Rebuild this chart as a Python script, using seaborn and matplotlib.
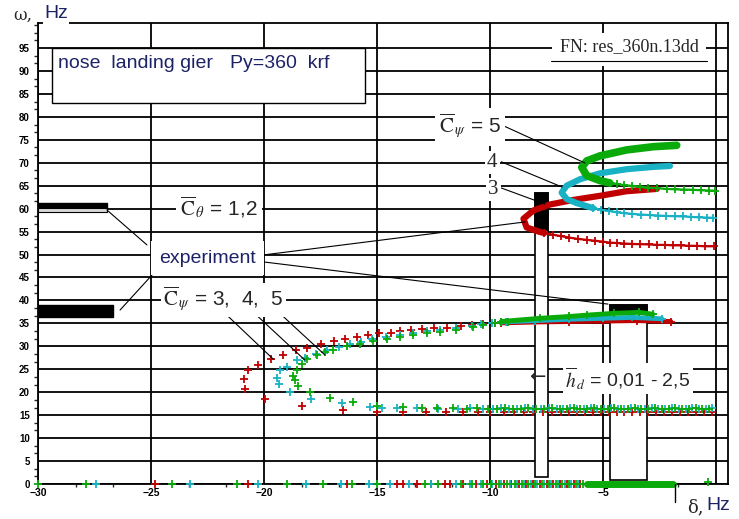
import matplotlib
matplotlib.use('Agg')
import matplotlib.pyplot as plt
import seaborn as sns
import pandas as pd
from matplotlib.patches import Rectangle
from matplotlib.ticker import MultipleLocator

# ---------------- data ----------------
y_ticks = [0, 5, 10, 15, 20, 25, 30, 35, 40, 45, 50, 55, 60, 65, 70, 75, 80, 85, 90, 95]
x_ticks = [-30, -25, -20, -15, -10, -5, 0]
x_tick_labels = ['\u221230', '\u221225', '\u221220', '\u221215', '\u221210', '\u22125', '']

# lower family: C-shaped branch (markers)
red_low_x = [-9.2, -9.8, -10.3, -10.8, -11.3, -11.9, -12.5, -13.0, -13.5, -14.0, -14.4, -14.9, -15.4,
             -15.9, -16.4, -16.9, -17.5, -18.1, -18.6, -19.15, -19.7, -20.25, -20.7, -20.9, -20.85,
             -19.95, -18.3, -16.5, -15.0, -13.85, -12.85, -11.95, -11.2, -10.55, -10.0, -9.4, -8.95,
             -8.5, -8.1, -7.65, -7.25, -6.85, -6.5, -6.15, -5.8, -5.45, -5.1, -4.75, -4.4, -4.05,
             -3.7, -3.35, -3.0, -2.65, -2.3, -1.95, -1.6, -1.25, -0.9, -0.55, -0.2]
red_low_y = [35.2, 35.0, 34.8, 34.6, 34.4, 34.1, 33.9, 33.7, 33.5, 33.3, 33.0, 32.8, 32.4,
             32.0, 31.7, 31.2, 30.4, 29.7, 29.1, 28.2, 27.3, 25.9, 24.8, 22.8, 20.8,
             18.6, 17.0, 16.1, 15.6, 15.7, 15.6, 15.6, 15.6, 15.6, 15.6, 15.7, 15.7,
             15.6, 15.6, 15.7, 15.6, 15.6, 15.7, 15.6, 15.6, 15.7, 15.6, 15.6, 15.7, 15.6,
             15.6, 15.7, 15.6, 15.6, 15.7, 15.6, 15.6, 15.7, 15.6, 15.6, 15.7]
cyan_low_x = [-9.3, -9.9, -10.4, -10.8, -11.5, -12.2, -12.8, -13.4, -14.0, -14.6, -15.2, -15.7,
              -16.2, -16.7, -17.2, -17.7, -18.2, -18.55, -19.0, -19.29, -19.44, -19.32, -18.85,
              -17.9, -16.56, -15.3, -14.79, -14.13, -13.24, -12.29, -11.4, -10.88, -10.3, -9.85,
              -9.5, -9.15, -8.8, -8.45, -8.1, -7.75, -7.4, -7.05, -6.75, -6.45, -6.15, -5.85,
              -5.55, -5.25, -4.95, -4.65, -4.35, -4.05, -3.75, -3.45, -3.15, -2.85, -2.55, -2.25,
              -1.95, -1.65, -1.35, -1.05, -0.75, -0.45, -0.2]
cyan_low_y = [35.4, 35.1, 34.8, 34.4, 34.0, 33.6, 33.3, 32.9, 32.5, 32.0, 31.5, 31.0,
              30.5, 29.8, 29.1, 28.4, 27.5, 27.0, 25.5, 24.8, 23.0, 21.8, 20.0,
              18.6, 17.6, 16.8, 16.6, 16.5, 16.5, 16.4, 16.4, 16.5, 16.4, 16.4,
              16.5, 16.4, 16.4, 16.5, 16.4, 16.4, 16.5, 16.4, 16.4, 16.5, 16.4, 16.4,
              16.5, 16.4, 16.4, 16.5, 16.4, 16.4, 16.5, 16.4, 16.4, 16.5, 16.4, 16.4,
              16.5, 16.4, 16.4, 16.5, 16.4, 16.4, 16.5]
green_low_x = [-9.2, -9.8, -10.3, -10.74, -11.5, -12.2, -12.8, -13.4, -13.98, -14.57, -15.16, -15.75,
               -16.34, -16.93, -17.3, -17.67, -18.11, -18.33, -18.55, -18.7, -18.63, -18.48, -17.96,
               -17.08, -16.05, -15.0, -13.84, -13.0, -12.36, -11.62, -11.03, -10.59, -10.1, -9.7,
               -9.35, -9.0, -8.65, -8.3, -7.95, -7.6, -7.25, -6.9, -6.6, -6.3, -6.0, -5.7, -5.4,
               -5.1, -4.8, -4.5, -4.2, -3.9, -3.6, -3.3, -3.0, -2.7, -2.4, -2.1, -1.8, -1.5, -1.2,
               -0.9, -0.6, -0.3]
green_low_y = [35.3, 35.0, 34.6, 34.2, 33.6, 33.1, 32.8, 32.4, 32.0, 31.5, 31.1, 30.6,
               30.0, 29.3, 28.8, 28.0, 27.3, 26.1, 24.9, 23.5, 22.6, 21.3, 20.0,
               18.8, 17.9, 17.1, 16.8, 16.6, 16.5, 16.5, 16.4, 16.5, 16.4, 16.4,
               16.5, 16.4, 16.4, 16.5, 16.4, 16.4, 16.5, 16.4, 16.4, 16.5, 16.4, 16.4, 16.5,
               16.4, 16.4, 16.5, 16.4, 16.4, 16.5, 16.4, 16.4, 16.5, 16.4, 16.4, 16.5, 16.4, 16.4,
               16.5, 16.4, 16.4]

# lower family: dense band near the fold tip
red_band_x = [-9.5, -8.0, -6.5, -5.0, -3.5, -2.0]
red_band_y = [35.1, 35.3, 35.4, 35.5, 35.6, 35.4]
cyan_band_x = [-9.5, -8.0, -6.5, -5.0, -3.7, -2.4]
cyan_band_y = [35.3, 35.6, 35.9, 36.1, 36.3, 36.0]
green_band_x = [-9.5, -7.8, -6.5, -5.7, -4.5, -3.4, -2.8]
green_band_y = [35.4, 36.1, 36.5, 36.8, 37.2, 37.4, 37.0]

# upper family: dense part (upper branch + nose)
red_up_x = [-2.62, -3.95, -5.13, -6.31, -7.35, -8.08, -8.52, -8.38, -7.79, -7.6]
red_up_y = [64.3, 63.8, 62.8, 61.9, 60.9, 59.6, 57.8, 55.9, 54.9, 54.7]
cyan_up_x = [-2.04, -2.77, -3.95, -5.13, -6.02, -6.61, -6.83, -6.61, -6.16, -5.43]
cyan_up_y = [69.3, 69.1, 68.6, 67.7, 66.4, 65.0, 63.5, 62.1, 61.2, 60.1]
green_up_x = [-1.74, -2.77, -3.95, -5.13, -5.72, -5.94, -5.72, -5.13, -4.7]
green_up_y = [73.8, 73.5, 72.8, 71.5, 70.4, 69.0, 67.2, 66.1, 65.6]

# upper family: lower branch (markers)
red_tail_x = [-7.6, -7.2, -6.85, -6.5, -6.1, -5.72, -5.35, -5.0, -4.7, -4.39, -4.05, -3.7, -3.35,
              -2.95, -2.6, -2.25, -1.9, -1.55, -1.2, -0.85, -0.5, -0.1]
red_tail_y = [54.7, 54.3, 54.0, 53.7, 53.4, 53.2, 53.0, 52.8, 52.6, 52.5, 52.4, 52.3, 52.25,
              52.2, 52.1, 52.1, 52.0, 52.0, 51.9, 51.9, 51.8, 51.8]
cyan_tail_x = [-5.43, -5.1, -4.75, -4.39, -4.05, -3.7, -3.3, -2.92, -2.55, -2.2, -1.8, -1.45,
               -1.1, -0.75, -0.4, -0.12]
cyan_tail_y = [60.1, 59.8, 59.5, 59.2, 59.0, 58.85, 58.7, 58.6, 58.5, 58.4, 58.35, 58.3,
               58.2, 58.1, 58.05, 58.0]
green_tail_x = [-4.7, -4.39, -4.05, -3.7, -3.36, -3.0, -2.6, -2.18, -1.8, -1.4, -1.0, -0.65,
                -0.3, -0.04]
green_tail_y = [65.6, 65.4, 65.1, 64.95, 64.8, 64.6, 64.45, 64.3, 64.2, 64.15, 64.1, 64.0,
                63.95, 63.9]

# roots on the delta axis
red_axis_x = [-24.82, -20.69, -16.34, -14.13, -13.84, -13.24, -12.6, -12.0, -11.77, -11.2, -10.6,
              -10.15, -9.75, -9.4, -9.05, -8.7, -8.4, -8.1, -7.8, -7.5, -7.2, -6.9, -6.6, -6.3, -6.0]
red_axis_y = [0.0] * len(red_axis_x)
cyan_axis_x = [-27.43, -23.27, -20.28, -18.14, -16.59, -15.34, -14.42, -13.6, -12.6, -11.5, -10.9,
               -10.4, -9.9, -9.5, -9.1, -8.8, -8.5, -8.2, -7.9, -7.6, -7.3, -7.0, -6.7, -6.4, -6.1]
cyan_axis_y = [0.0] * len(cyan_axis_x)
green_axis_x = [-30.0, -27.88, -24.08, -21.21, -19.0, -17.4, -16.12, -15.01, -12.88, -12.3, -11.3,
                -10.8, -10.3, -9.95, -9.6, -9.25, -8.9, -8.6, -8.3, -8.0, -7.7, -7.4, -7.1, -6.8,
                -6.5, -6.2, -5.9, -0.35]
green_axis_y = [0.0] * 27 + [0.4]
green_axis_band_x = [-5.7, -1.9]
green_axis_band_y = [0.0, 0.0]

# experiment
exp_bar_x0 = [-30.0, -30.0]
exp_bar_x1 = [-26.95, -26.68]
exp_bar_lo = [60.1, 36.4]
exp_bar_hi = [61.2, 39.0]
exp_rect_x0 = [-8.01, -4.69]
exp_rect_x1 = [-7.42, -3.05]
exp_rect_lo = [55.35, 37.2]
exp_rect_hi = [63.35, 39.0]
exp_rect_base = [1.6, 0.87]

RED = '#c00000'
CYAN = '#18b2c4'
GREEN = '#0aaa0a'
NAVY = '#1c2266'

# ---------------- figure ----------------
sns.set_theme(style='white')
plt.rcParams['font.family'] = ['Liberation Sans', 'DejaVu Sans']
plt.rcParams['mathtext.fontset'] = 'stix'

fig = plt.figure(figsize=(7.39, 5.19), dpi=100)
fig.patch.set_facecolor('white')
ax = fig.add_axes([38 / 739, 35 / 519, 690 / 739, 461 / 519])
ax.set_facecolor('white')


def pts(xs, ys):
    return pd.DataFrame({'x': xs, 'y': ys})


def marks(xs, ys, color, z=3, clip=True):
    sns.scatterplot(data=pts(xs, ys), x='x', y='y', marker='+', s=32, linewidth=1.3,
                    color=color, ax=ax, zorder=z, legend=False, clip_on=clip)


def dense(xs, ys, color, lw, z=3, clip=True):
    sns.lineplot(data=pts(xs, ys), x='x', y='y', sort=False, estimator=None, color=color,
                 lw=lw, ax=ax, zorder=z, legend=False, solid_capstyle='round', clip_on=clip)


series = [
    (RED, red_low_x, red_low_y, red_band_x, red_band_y, red_up_x, red_up_y, red_tail_x, red_tail_y,
     red_axis_x, red_axis_y),
    (CYAN, cyan_low_x, cyan_low_y, cyan_band_x, cyan_band_y, cyan_up_x, cyan_up_y, cyan_tail_x,
     cyan_tail_y, cyan_axis_x, cyan_axis_y),
    (GREEN, green_low_x, green_low_y, green_band_x, green_band_y, green_up_x, green_up_y,
     green_tail_x, green_tail_y, green_axis_x, green_axis_y),
]
for i, (c, lx, ly, bx, by, ux, uy, tx, ty, axx, axy) in enumerate(series):
    z = 3 + i * 0.1
    marks(lx, ly, c, z)
    dense(bx, by, c, 3.5, z)
    marks(bx, by, c, z)
    dense(ux, uy, c, 4.5 if c != GREEN else 5.5, z)
    dense(tx, ty, c, 1.6, z)
    marks(tx, ty, c, z)
    marks(axx, axy, c, z, clip=False)
dense(green_axis_band_x, green_axis_band_y, GREEN, 5, 3.3, clip=False)

ax.set_xlim(-30, 0.53)
ax.set_ylim(0, 100.45)
ax.set_xlabel('')
ax.set_ylabel('')

ax.set_xticks(x_ticks)
ax.set_xticklabels(x_tick_labels)
ax.set_yticks(y_ticks)
ax.set_yticklabels([str(v) for v in y_ticks])
ax.yaxis.set_minor_locator(MultipleLocator(5 / 3))
ax.xaxis.set_minor_locator(MultipleLocator(5 / 3))
ax.tick_params(axis='y', which='major', direction='out', length=5, width=1, pad=1,
               labelsize=7, colors='black')
ax.tick_params(axis='y', which='minor', direction='out', length=3, width=1, left=True)
ax.tick_params(axis='x', which='major', length=0, pad=3, labelsize=7.5, colors='black')
ax.tick_params(axis='x', which='minor', direction='out', length=2, width=1, bottom=True)
for lab in ax.get_xticklabels() + ax.get_yticklabels():
    lab.set_fontweight('bold')
ax.grid(True, which='major', color='black', linewidth=1.3)
ax.set_axisbelow(True)
for sp in ax.spines.values():
    sp.set_color('black')
    sp.set_linewidth(1.3)

# experiment boxes
for x0, x1, lo, hi in zip(exp_bar_x0, exp_bar_x1, exp_bar_lo, exp_bar_hi):
    ax.add_patch(Rectangle((x0, lo), x1 - x0, hi - lo, facecolor='black', edgecolor='black',
                           lw=1, zorder=2))
ax.add_patch(Rectangle((exp_bar_x0[0], exp_bar_lo[0] - 0.8), exp_bar_x1[0] - exp_bar_x0[0], 0.8,
                       facecolor='#d8d8d8', edgecolor='black', lw=0.8, zorder=2))
for x0, x1, lo, hi, base in zip(exp_rect_x0, exp_rect_x1, exp_rect_lo, exp_rect_hi, exp_rect_base):
    ax.add_patch(Rectangle((x0, base), x1 - x0, hi - base, facecolor='white', edgecolor='black',
                           lw=1.2, zorder=2))
    ax.add_patch(Rectangle((x0, lo), x1 - x0, hi - lo, facecolor='black', edgecolor='black',
                           lw=1.2, zorder=2.1))

# ---------------- annotations ----------------
bg = dict(facecolor='white', edgecolor='none', pad=1.5)
lk = dict(color='black', lw=0.8, zorder=4)

# box top-left
ax.add_patch(Rectangle((-29.38, 83.0), 13.85, 12.0, facecolor='white', edgecolor='black',
                       lw=1.0, zorder=2.5))
ax.text(-29.1, 91.6, 'nose  landing gier', fontsize=14, color=NAVY, va='center', ha='left',
        zorder=5)
ax.text(-21.5, 91.6, 'Py=360  krf', fontsize=14, color=NAVY, va='center', ha='left', zorder=5)

# FN label
ax.add_patch(Rectangle((-7.25, 91.0), 6.8, 7.3, facecolor='white', edgecolor='none', zorder=2.5))
ax.text(-3.85, 95.2, 'FN: res_360n.13dd', fontsize=13, family='Liberation Serif',
        ha='center', va='center', zorder=5)
ax.plot([-7.3, -0.4], [92.2, 92.2], **lk)

# C_psi = 5,4,3 (upper)
ax.text(-10.9, 77.8, r'$\overline{\mathrm{C}}_{\,\psi}$ = 5', fontsize=15, ha='center',
        va='center', zorder=5, bbox=dict(facecolor='white', edgecolor='none', pad=3))
ax.text(-9.9, 70.0, '4', fontsize=15, ha='center', va='center', zorder=5,
        family='Liberation Serif', bbox=bg)
ax.text(-9.85, 64.2, '3', fontsize=15, ha='center', va='center', zorder=5,
        family='Liberation Serif', bbox=bg)
ax.plot([-9.47, -5.80], [78.2, 69.95], **lk)
ax.plot([-9.5, -6.81], [70.2, 64.7], **lk)
ax.plot([-9.5, -7.57], [64.5, 61.0], **lk)

# C_theta
ax.text(-22.0, 60.4, r'$\overline{\mathrm{C}}_{\,\theta}$ = 1,2', fontsize=15, ha='center',
        va='center', zorder=5, bbox=dict(facecolor='white', edgecolor='none', pad=3))
ax.plot([-23.72, -20.27], [57.7, 57.7], **lk)

# experiment
ax.text(-22.5, 49.2, 'experiment', fontsize=14, color=NAVY, ha='center', va='center', zorder=5,
        bbox=dict(facecolor='white', edgecolor='none', pad=6))
ax.plot([-25.18, -26.95], [52.1, 59.7], **lk)
ax.plot([-24.87, -26.37], [46.0, 37.9], **lk)
ax.plot([-20.04, -8.45], [49.9, 57.1], **lk)
ax.plot([-20.04, -4.78], [48.4, 39.2], **lk)

# C_psi = 3, 4, 5 (lower)
ax.text(-21.8, 40.1, r'$\overline{\mathrm{C}}_{\,\psi}$ = 3,  4,  5', fontsize=15, ha='center',
        va='center', zorder=5, bbox=dict(facecolor='white', edgecolor='none', pad=2))
ax.plot([-21.73, -19.59], [37.2, 27.2], **lk)
ax.plot([-20.62, -18.19], [38.1, 27.0], **lk)
ax.plot([-19.59, -17.3], [38.5, 28.1], **lk)

# h_d
ax.text(-3.9, 23.0, r'$\overline{h}_{\,d}$ = 0,01 - 2,5', fontsize=14, ha='center', va='center',
        zorder=5, bbox=dict(facecolor='white', edgecolor='none', pad=2))
ax.text(-7.9, 23.2, '\u2190', fontsize=14, ha='center', va='center', zorder=5,
        family='DejaVu Sans')

# small divider under axis
ax.plot([-1.81, -1.81], [0, -3.9], color='black', lw=1, clip_on=False, zorder=4)

# axis labels
fig.text(13 / 739, 1 - 15 / 519, '\u03c9,', fontsize=12, family='DejaVu Serif', ha='left',
         va='center')
fig.text(44 / 739, 1 - 14 / 519, 'Hz', fontsize=14, color=NAVY, ha='left', va='center',
         bbox=dict(facecolor='white', edgecolor='none', pad=1))
fig.text(687 / 739, 1 - 507 / 519, '\u03b4,', fontsize=13, family='DejaVu Serif', ha='left',
         va='center')
fig.text(706 / 739, 1 - 505 / 519, 'Hz', fontsize=14, color=NAVY, ha='left', va='center')

fig.savefig('out.png', dpi=100)
